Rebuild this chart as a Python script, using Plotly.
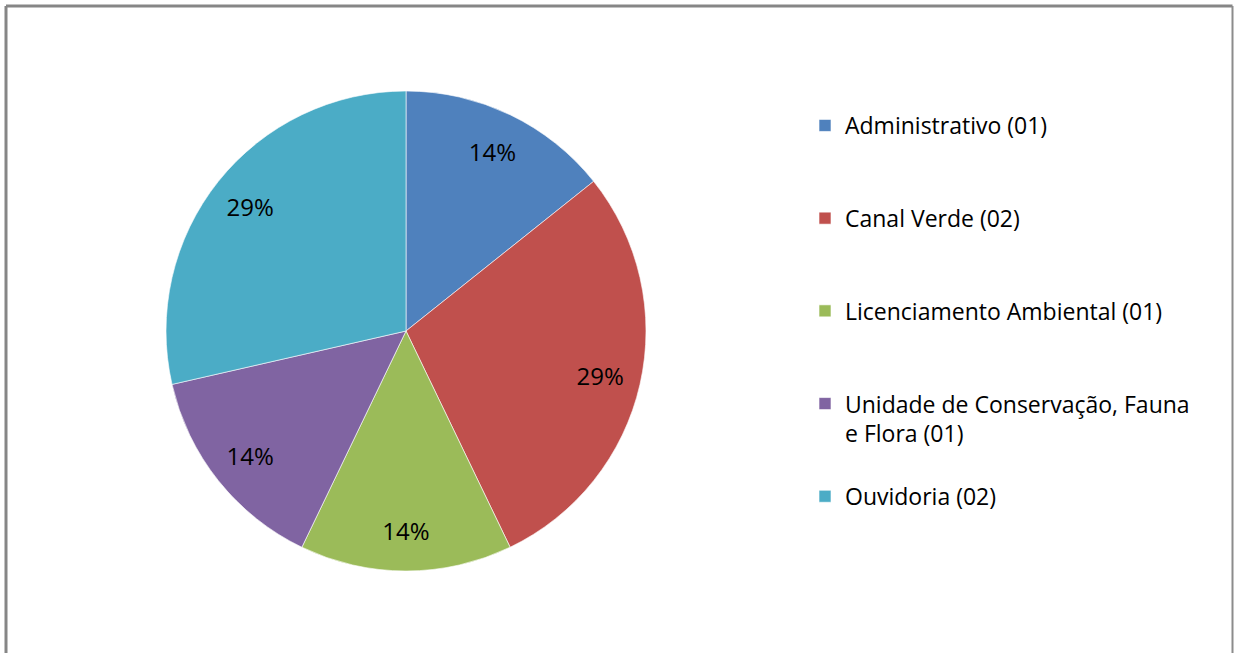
import plotly.graph_objects as go

categories = [
    "Administrativo (01)",
    "Canal Verde (02)",
    "Licenciamento Ambiental (01)",
    "Unidade de Conservação, Fauna e Flora (01)",
    "Ouvidoria (02)",
]
legend_labels = [
    "Administrativo (01)",
    "Canal Verde (02)",
    "Licenciamento Ambiental (01)",
    "Unidade de Conservação, Fauna<br>e Flora (01)",
    "Ouvidoria (02)",
]
values = [1, 2, 1, 1, 2]
colors = ["#4F81BD", "#C0504D", "#9BBB59", "#8064A2", "#4BACC6"]
pad_lines = [2, 2, 2, 1, 0]

display = [lab + "<br> " * n for lab, n in zip(legend_labels, pad_lines)]

W, H = 1236, 653
cx, cy, r = 406, 331, 240
FONT = "Open Sans"

domain = dict(
    x=[(cx - r) / W, (cx + r) / W],
    y=[(H - cy - r) / H, (H - cy + r) / H],
)

# colored slices
fig = go.Figure(
    go.Pie(
        labels=display,
        values=values,
        sort=False,
        direction="clockwise",
        rotation=0,
        marker=dict(colors=colors, line=dict(color="rgba(255,255,255,0.6)", width=1)),
        textinfo="none",
        hovertext=categories,
        hoverinfo="text+percent",
        domain=domain,
    )
)

# percent labels placed in an outer ring (transparent overlay)
fig.add_trace(
    go.Pie(
        labels=categories,
        values=values,
        sort=False,
        direction="clockwise",
        rotation=0,
        hole=0.66,
        marker=dict(colors=["rgba(0,0,0,0)"] * len(values), line=dict(width=0)),
        texttemplate="%{percent:.0%}",
        textposition="inside",
        insidetextorientation="horizontal",
        textfont=dict(family=FONT, size=24, color="#000000"),
        showlegend=False,
        hoverinfo="skip",
        domain=domain,
    )
)

fig.update_layout(
    width=W,
    height=H,
    margin=dict(l=0, r=0, t=0, b=0),
    paper_bgcolor="white",
    plot_bgcolor="white",
    showlegend=True,
    legend=dict(
        x=805 / W,
        y=1 - 104 / H,
        xanchor="left",
        yanchor="top",
        valign="top",
        font=dict(family=FONT, size=23, color="#000000"),
        itemwidth=30,
        bgcolor="rgba(0,0,0,0)",
    ),
    shapes=[
        dict(type="line", xref="paper", yref="paper",
             x0=6 / W, x1=1232.5 / W, y0=1 - 6 / H, y1=1 - 6 / H,
             line=dict(color="#868686", width=3)),
        dict(type="line", xref="paper", yref="paper",
             x0=6 / W, x1=6 / W, y0=-0.02, y1=1 - 6 / H,
             line=dict(color="#868686", width=3)),
        dict(type="line", xref="paper", yref="paper",
             x0=1232.5 / W, x1=1232.5 / W, y0=-0.02, y1=1 - 6 / H,
             line=dict(color="#8c8c8c", width=2)),
    ],
)

fig.write_html(
    "out.html",
    config={"displayModeBar": False},
    post_script="document.body.style.margin='0';",
)
